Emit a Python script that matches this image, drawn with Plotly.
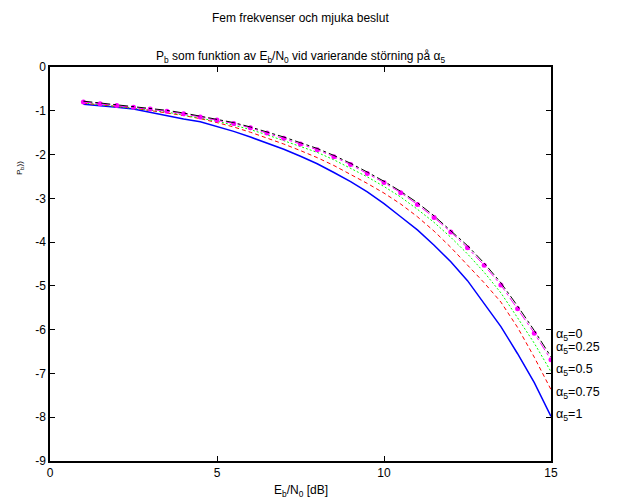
import plotly.graph_objects as go

ebn0 = [1, 1.5, 2, 2.5, 3, 3.5, 4, 4.5, 5, 5.5, 6, 6.5, 7, 7.5, 8, 8.5, 9, 9.5,
        10, 10.5, 11, 11.5, 12, 12.5, 13, 13.5, 14, 14.5, 15]

pb_a0 = [-0.78, -0.82, -0.86, -0.90, -0.94, -0.99, -1.05, -1.12, -1.19, -1.27,
         -1.37, -1.48, -1.60, -1.73, -1.86, -2.02, -2.20, -2.40, -2.61, -2.84,
         -3.10, -3.40, -3.73, -4.08, -4.48, -4.93, -5.46, -6.02, -6.62]
pb_a025 = [-0.80, -0.84, -0.88, -0.92, -0.96, -1.01, -1.07, -1.14, -1.21, -1.29,
           -1.39, -1.51, -1.63, -1.76, -1.89, -2.05, -2.23, -2.43, -2.64, -2.87,
           -3.14, -3.44, -3.77, -4.13, -4.53, -4.98, -5.52, -6.08, -6.69]
pb_a05 = [-0.82, -0.86, -0.90, -0.94, -0.98, -1.03, -1.10, -1.17, -1.24, -1.33,
          -1.43, -1.55, -1.68, -1.81, -1.95, -2.12, -2.31, -2.51, -2.73, -2.97,
          -3.25, -3.55, -3.89, -4.27, -4.69, -5.16, -5.73, -6.31, -6.96]
pb_a075 = [-0.83, -0.86, -0.90, -0.94, -0.99, -1.05, -1.11, -1.18, -1.27, -1.37,
           -1.49, -1.62, -1.76, -1.91, -2.07, -2.25, -2.45, -2.66, -2.88, -3.13,
           -3.42, -3.75, -4.12, -4.52, -4.93, -5.37, -5.95, -6.63, -7.37]
pb_a1 = [-0.85, -0.88, -0.92, -0.96, -1.04, -1.12, -1.19, -1.25, -1.36, -1.47,
         -1.60, -1.74, -1.88, -2.04, -2.21, -2.41, -2.62, -2.85, -3.12, -3.42,
         -3.72, -4.07, -4.45, -4.88, -5.40, -5.93, -6.55, -7.21, -7.98]

label_texts = ["α<sub>5</sub>=0", "α<sub>5</sub>=0.25", "α<sub>5</sub>=0.5",
               "α<sub>5</sub>=0.75", "α<sub>5</sub>=1"]
label_y = [-6.12, -6.41, -6.93, -7.45, -7.96]

x_ticks = [0, 5, 10, 15]
y_ticks = [0, -1, -2, -3, -4, -5, -6, -7, -8, -9]

FONT = "Liberation Sans, Arial, sans-serif"
OFF = 8  # page body margin
W, H = 621 - OFF, 502 - OFF
# plot area in window pixels: x 50..551, y 67..461
ML, MT = 50 - OFF, 67 - OFF
PW, PH = 551 - 50, 461 - 67
MR, MB = W - ML - PW, H - MT - PH

fig = go.Figure()
fig.add_trace(go.Scatter(x=ebn0, y=pb_a1, mode="lines",
                         line=dict(color="#0000ff", width=1.5)))
fig.add_trace(go.Scatter(x=ebn0, y=pb_a075, mode="lines",
                         line=dict(color="#ff0000", width=1, dash="4px,3px")))
fig.add_trace(go.Scatter(x=ebn0, y=pb_a05, mode="lines",
                         line=dict(color="#00ff00", width=1, dash="2px,2px")))
fig.add_trace(go.Scatter(x=ebn0, y=pb_a025, mode="lines+markers",
                         line=dict(color="#ff00ff", width=1, dash="dashdot"),
                         marker=dict(color="#ff00ff", size=5, symbol="circle")))
fig.add_trace(go.Scatter(x=ebn0, y=pb_a0, mode="lines",
                         line=dict(color="#000000", width=1, dash="dashdot")))

fig.update_layout(
    width=W, height=H,
    margin=dict(l=ML, r=MR, t=MT, b=MB, autoexpand=False),
    paper_bgcolor="white", plot_bgcolor="white",
    showlegend=False,
    font=dict(family=FONT, size=12, color="black"),
)

def py(win_y):
    return (MT + PH - (win_y - OFF)) / PH

def px(win_x):
    return ((win_x - OFF) - ML) / PW

for t, yv in zip(label_texts, label_y):
    fig.add_annotation(x=15, y=yv, xref="x", yref="y", text=t,
                       showarrow=False, xanchor="left", yanchor="middle",
                       xshift=4, borderpad=0,
                       font=dict(family=FONT, size=12.5, color="black"))
fig.add_annotation(text="Fem frekvenser och mjuka beslut", x=0.5, xref="paper",
                   y=py(18), yref="paper", yanchor="middle",
                   showarrow=False, font=dict(family=FONT, size=12, color="black"))
fig.add_annotation(text="P<sub>b</sub> som funktion av E<sub>b</sub>/N<sub>0</sub> vid varierande störning på α<sub>5</sub>",
                   x=0.5, xref="paper", y=py(57), yref="paper", yanchor="middle",
                   showarrow=False, font=dict(family=FONT, size=12, color="black"))
fig.add_annotation(text="P<sub>b</sub>))", x=px(20), xref="paper", xanchor="center",
                   y=py(168), yref="paper", yanchor="middle",
                   showarrow=False, textangle=-90,
                   font=dict(family=FONT, size=8, color="black"))
fig.add_annotation(text="E<sub>b</sub>/N<sub>0</sub> [dB]", x=0.5, xref="paper",
                   y=py(491), yref="paper", yanchor="middle",
                   showarrow=False, font=dict(family=FONT, size=12, color="black"))

fig.update_xaxes(range=[0, 15], tickvals=x_ticks, ticktext=[str(v) for v in x_ticks],
                 showline=True, linecolor="black", linewidth=1.5, mirror="ticks",
                 ticks="inside", ticklen=5, tickcolor="black", showgrid=False,
                 zeroline=False, automargin=False,
                 tickfont=dict(family=FONT, size=12))
fig.update_yaxes(range=[-9, 0], tickvals=y_ticks, ticktext=[str(v) for v in y_ticks],
                 showline=True, linecolor="black", linewidth=1.5, mirror="ticks",
                 ticks="inside", ticklen=5, tickcolor="black", showgrid=False,
                 zeroline=False, automargin=False,
                 tickfont=dict(family=FONT, size=12))

fig.write_html("out.html")
